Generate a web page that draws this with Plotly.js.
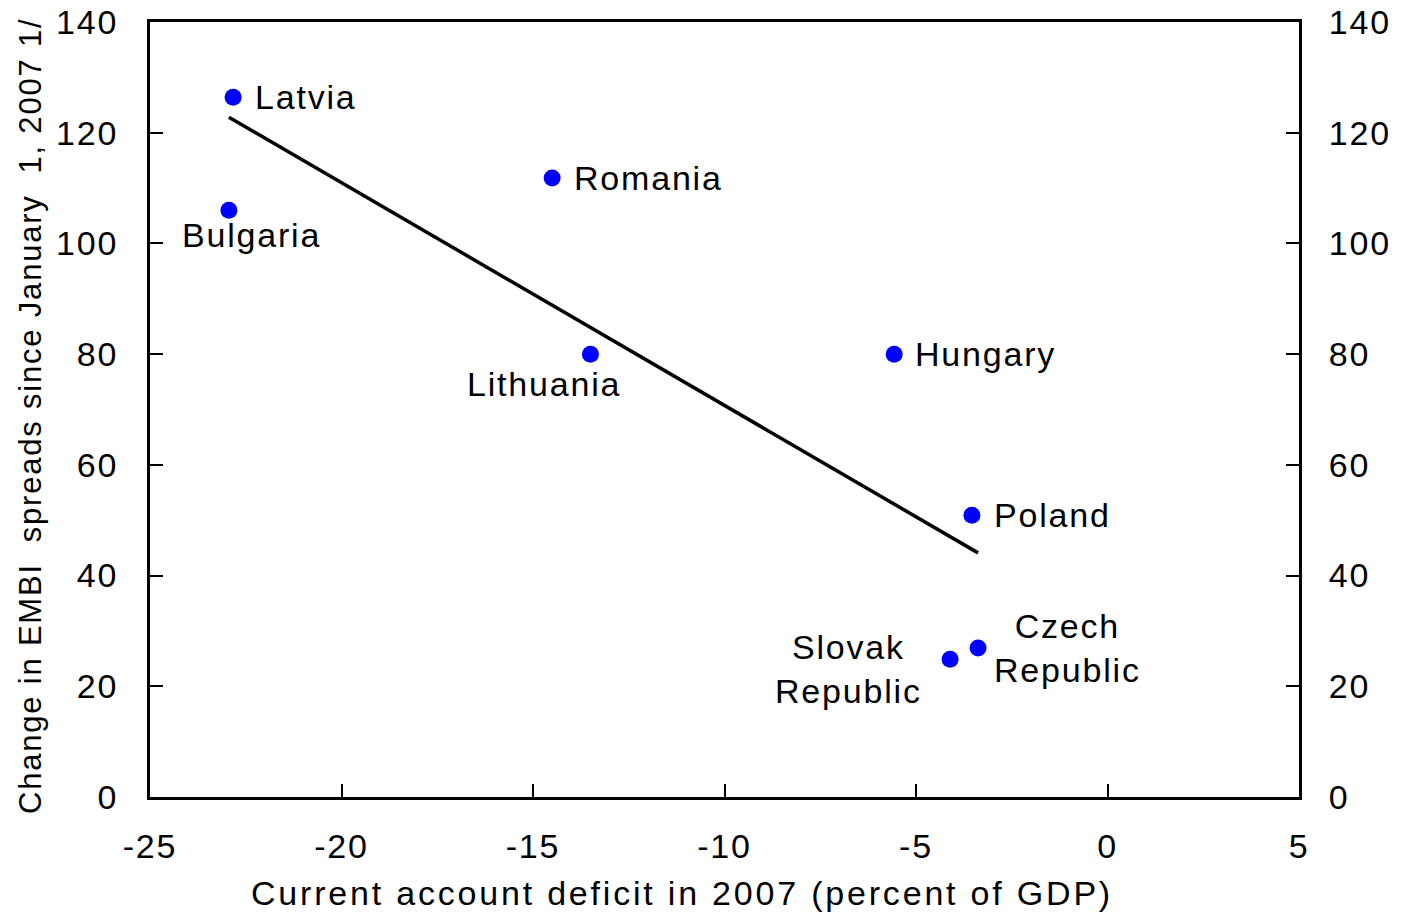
<!DOCTYPE html>
<html>
<head>
<meta charset="utf-8">
<script src="https://cdn.plot.ly/plotly-3.0.1.min.js"></script>
<style>
html,body{margin:0;padding:0;background:#fff;}
#chart{width:1403px;height:913px;}
svg text{letter-spacing:1.8px;}
</style>
</head>
<body>
<div id="chart"></div>
<script>
// Data
const countries = ["Latvia", "Bulgaria", "Romania", "Lithuania", "Hungary", "Poland", "Slovak<br>Republic", "Czech<br>Republic"];
const deficit = [-22.83, -22.94, -14.5, -13.5, -5.57, -3.54, -4.11, -3.38];
const spreadChange = [126.4, 106, 111.8, 80, 80, 50.9, 24.9, 26.9];
const trendX = [-22.94, -3.38];
const trendY = [122.8, 44.1];
const xTicks = [-25, -20, -15, -10, -5, 0, 5];
const yTicks = [0, 20, 40, 60, 80, 100, 120, 140];
const xTitle = "Current account deficit in 2007 (percent of GDP)";
const yTitle = "Change in EMBI  spreads since January  1, 2007 1/";

// Label placement (styling only)
const labelPos = {
  "Latvia": {xanchor: "left", yanchor: "middle", xshift: 20, yshift: 0},
  "Bulgaria": {xanchor: "center", yanchor: "middle", xshift: 23, yshift: -25},
  "Romania": {xanchor: "left", yanchor: "middle", xshift: 20, yshift: 0},
  "Lithuania": {xanchor: "center", yanchor: "middle", xshift: -46, yshift: -30},
  "Hungary": {xanchor: "left", yanchor: "middle", xshift: 19, yshift: 0},
  "Poland": {xanchor: "left", yanchor: "middle", xshift: 20, yshift: 0},
  "Slovak<br>Republic": {xanchor: "center", yanchor: "middle", xshift: -102, yshift: -10},
  "Czech<br>Republic": {xanchor: "center", yanchor: "middle", xshift: 89, yshift: 0}
};

const FONT = "Liberation Sans, Arial, sans-serif";
const fs = 34;

const traces = [
  {
    x: trendX, y: trendY, type: "scatter", mode: "lines",
    line: {color: "#000000", width: 3.5}, hoverinfo: "skip", showlegend: false
  },
  {
    x: deficit, y: spreadChange, type: "scatter", mode: "markers",
    marker: {color: "#0000ff", size: 17}, showlegend: false
  },
  {
    x: [deficit[0]], y: [spreadChange[0]], yaxis: "y2", type: "scatter", mode: "markers",
    marker: {opacity: 0}, showlegend: false, hoverinfo: "skip"
  }
];

const annotations = countries.map((c, i) => Object.assign({
  x: deficit[i], y: spreadChange[i], xref: "x", yref: "y",
  text: c, showarrow: false, align: "center",
  font: {family: FONT, size: fs, color: "#000"}
}, labelPos[c]));

// Axis titles as annotations for exact placement
annotations.push({
  xref: "paper", yref: "paper", x: 0.463, y: -0.124, xanchor: "center", yanchor: "middle",
  text: '<span style="letter-spacing:2.8px">' + xTitle + '</span>', showarrow: false,
  font: {family: FONT, size: 34, color: "#000"}
});
annotations.push({
  xref: "paper", yref: "paper", x: -0.1044, y: 0.4916, xanchor: "center", yanchor: "middle",
  text: yTitle, textangle: -90, showarrow: false,
  font: {family: FONT, size: 31, color: "#000"}
});

const axisCommon = {
  showgrid: false, zeroline: false, showline: true, linecolor: "#000", linewidth: 3,
  ticks: "inside", ticklen: 13, tickwidth: 2, tickcolor: "#000",
  tickfont: {family: FONT, size: fs, color: "#000"}
};

const layout = {
  width: 1403, height: 913,
  margin: {l: 150, r: 104, t: 22, b: 116},
  paper_bgcolor: "#fff", plot_bgcolor: "#fff",
  showlegend: false,
  xaxis: Object.assign({}, axisCommon, {
    range: [-25, 5], tickvals: xTicks, ticktext: xTicks.map(String),
    mirror: true, ticklabelstandoff: 17
  }),
  yaxis: Object.assign({}, axisCommon, {
    range: [0, 140], tickvals: yTicks,
    ticklabelstandoff: 22
  }),
  yaxis2: Object.assign({}, axisCommon, {
    range: [0, 140], tickvals: yTicks,
    overlaying: "y", side: "right", ticklabelstandoff: 20
  }),
  annotations: annotations
};

Plotly.newPlot("chart", traces, layout, {displayModeBar: false, staticPlot: true});
</script>
</body>
</html>
